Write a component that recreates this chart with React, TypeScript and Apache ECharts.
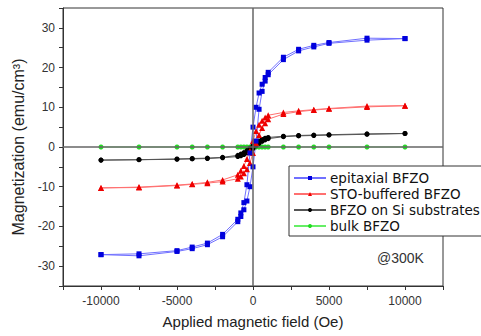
import React, { useEffect, useRef } from "react";
import * as echarts from "echarts";

const fieldDown = [10000, 7500, 5000, 4000, 3000, 2000, 1000, 800, 600, 400, 200, 0, -200, -400, -600, -800, -1000, -2000, -3000, -4000, -5000, -7500, -10000];
const fieldUp = [-10000, -7500, -5000, -4000, -3000, -2000, -1000, -800, -600, -400, -200, 0, 200, 400, 600, 800, 1000, 2000, 3000, 4000, 5000, 7500, 10000];

const epiDown = [27.3, 27.4, 26.3, 25.6, 24.6, 22.6, 18.8, 17.5, 15.8, 13.6, 10.0, 5.0, -1.5, -9.5, -14.0, -16.6, -18.2, -22.0, -24.2, -25.2, -26.1, -26.9, -27.1];
const epiUp = [-27.1, -27.4, -26.3, -25.6, -24.6, -22.6, -18.8, -17.5, -15.8, -13.6, -10.0, -5.0, 1.5, 9.5, 14.0, 16.6, 18.2, 22.0, 24.2, 25.2, 26.1, 26.9, 27.3];

const stoDown = [10.4, 10.3, 9.7, 9.4, 9.1, 8.7, 8.0, 7.4, 6.6, 5.6, 4.0, 1.5, -1.0, -3.0, -4.8, -6.0, -7.0, -8.3, -8.9, -9.3, -9.6, -10.1, -10.3];
const stoUp = [-10.3, -10.2, -9.7, -9.4, -9.1, -8.7, -8.0, -7.4, -6.6, -5.6, -4.0, -1.5, 1.0, 3.0, 4.8, 6.0, 7.0, 8.3, 8.9, 9.3, 9.6, 10.1, 10.4];

const siDown = [3.4, 3.3, 3.1, 3.0, 2.9, 2.7, 2.4, 2.2, 1.9, 1.5, 1.0, 0.4, -0.3, -0.9, -1.4, -1.8, -2.1, -2.6, -2.8, -2.9, -3.0, -3.2, -3.3];
const siUp = [-3.3, -3.2, -3.1, -3.0, -2.9, -2.7, -2.4, -2.2, -1.9, -1.5, -1.0, -0.4, 0.3, 0.9, 1.4, 1.8, 2.1, 2.6, 2.8, 2.9, 3.0, 3.2, 3.4];

const bulkField = [-10000, -7500, -5000, -4000, -3000, -2000, -1000, -800, -600, -400, -200, 0, 200, 400, 600, 800, 1000, 2000, 3000, 4000, 5000, 7500, 10000];
const bulkValues = [0, 0, 0, 0, 0, 0, 0, 0, 0, 0, 0, 0, 0, 0, 0, 0, 0, 0, 0, 0, 0, 0, 0];

const seriesNames = ["epitaxial BFZO", "STO-buffered BFZO", "BFZO on Si substrates", "bulk BFZO"];

const FONT = "Liberation Sans";
const LEGEND_FONT = "DejaVu Sans";

function loop(down: number[], up: number[]) {
  return fieldDown.map((h, i) => [h, down[i]]).concat(fieldUp.map((h, i) => [h, up[i]]));
}

export default function App() {
  const ref = useRef<HTMLDivElement>(null);
  useEffect(() => {
    document.body.style.margin = "0";
    const chart = echarts.init(ref.current!, null, { renderer: "svg" });
    const mk = (name: string, data: number[][], symbol: string, size: number, mColor: string, lColor: string) => ({
      name,
      type: "line",
      data,
      symbol,
      symbolSize: size,
      showSymbol: true,
      itemStyle: { color: mColor },
      lineStyle: { color: lColor, width: 1 },
      z: 3,
    });
    chart.setOption({
      animation: false,
      backgroundColor: "#fff",
      grid: { left: 63, right: 38, top: 8, bottom: 50, show: true, borderColor: "#333", borderWidth: 1 },
      xAxis: {
        type: "value",
        min: -12500,
        max: 12500,
        interval: 2500,
        name: "Applied magnetic field (Oe)",
        nameLocation: "middle",
        nameGap: 28,
        nameTextStyle: { fontSize: 15, color: "#222", fontFamily: FONT },
        axisLine: { onZero: false, lineStyle: { color: "#333" } },
        axisTick: { show: true, inside: false, length: 4, lineStyle: { color: "#333" } },
        axisLabel: {
          margin: 9,
          fontSize: 12,
          color: "#333",
          fontFamily: FONT,
          formatter: (v: number) => (v % 5000 === 0 ? String(v) : ""),
        },
        splitLine: { show: false },
      },
      yAxis: {
        type: "value",
        min: -35,
        max: 35,
        interval: 5,
        name: "Magnetization (emu/cm³)",
        nameLocation: "middle",
        nameGap: 32,
        nameTextStyle: { fontSize: 16, color: "#222", fontFamily: FONT },
        axisLine: { onZero: false, show: true, lineStyle: { color: "#333" } },
        axisTick: { show: true, inside: false, length: 4, lineStyle: { color: "#333" } },
        axisLabel: {
          margin: 8,
          fontSize: 12,
          color: "#333",
          fontFamily: FONT,
          formatter: (v: number) => (v % 10 === 0 ? String(v) : ""),
        },
        splitLine: { show: false },
      },
      legend: {
        orient: "vertical",
        left: 289,
        top: 166,
        padding: [4, 40, 2, 4],
        itemGap: 0,
        itemWidth: 32,
        itemHeight: 5,
        backgroundColor: "#fff",
        borderColor: "#333",
        borderWidth: 1,
        borderRadius: 0,
        textStyle: { fontSize: 13.5, color: "#111", fontFamily: LEGEND_FONT, lineHeight: 16, padding: [0, 0, 0, -1] },
        data: seriesNames,
      },
      graphic: [
        {
          type: "text",
          left: 377,
          top: 251,
          style: { text: "@300K", fontSize: 14, fill: "#333", fontFamily: FONT },
          z: 10,
        },
      ],
      series: [
        {
          type: "line",
          data: [],
          silent: true,
          z: 1,
          markLine: {
            silent: true,
            symbol: "none",
            label: { show: false },
            lineStyle: { color: "#666", width: 1.5, type: "solid" },
            data: [{ xAxis: 0 }, { yAxis: 0 }],
          },
        },
        mk(seriesNames[3], bulkField.map((h, i) => [h, bulkValues[i]]), "circle", 5, "#22dd22", "#66ee66"),
        mk(seriesNames[2], loop(siDown, siUp), "circle", 5, "#000000", "#555555"),
        mk(seriesNames[1], loop(stoDown, stoUp), "triangle", 6, "#ee0000", "#ff7070"),
        mk(seriesNames[0], loop(epiDown, epiUp), "rect", 5, "#0000dd", "#7070ff"),
      ],
    });
    return () => chart.dispose();
  }, []);
  return <div ref={ref} style={{ width: 481, height: 336 }} />;
}
